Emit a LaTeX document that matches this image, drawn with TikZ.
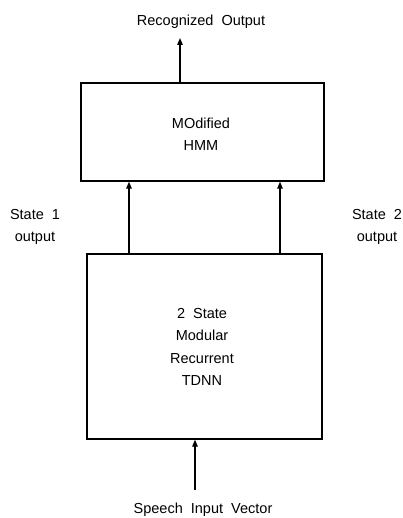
\documentclass[tikz,border=0pt]{standalone}
\usepackage{fontspec}
\setmainfont{Liberation Sans}
\usetikzlibrary{arrows.meta}
\begin{document}
\begin{tikzpicture}[x=1pt,y=-1pt,
  blk/.style={draw,line width=1.3pt,inner sep=0pt},
  lbl/.style={font=\fontsize{14.5}{22.5}\selectfont,align=center,inner sep=0pt},
  arr/.style={line width=1.3pt,-{Triangle[length=7pt,width=5.5pt]}}]
\useasboundingbox (0,0) rectangle (403,518);
\node[blk,minimum width=243pt,minimum height=98pt] (hmm) at (202.5,132) {};
\node[lbl] (hmmt) at (201,134) {MOdified\\HMM};
\node[blk,minimum width=235pt,minimum height=185pt] (tdnn) at (204.5,346.5) {};
\node[lbl] (tdnnt) at (202,347) {2\ \ State\\Modular\\Recurrent\\TDNN};
\node[lbl] (out) at (201,22) {Recognized\ \ Output};
\node[lbl] (in) at (203,510) {Speech\ \ Input\ \ Vector};
\node[lbl] (s1) at (35,227) {State\ \ 1\\output};
\node[lbl] (s2) at (377,227) {State\ \ 2\\output};
\coordinate (outend) at (180,38);
\coordinate (inend) at (195,490);
\draw[arr] (hmm.north -| outend) -- (outend);
\draw[arr] (tdnn.north -| 129,0) -- (hmm.south -| 129,0);
\draw[arr] (tdnn.north -| 280,0) -- (hmm.south -| 280,0);
\draw[arr] (inend) -- (tdnn.south -| inend);
\end{tikzpicture}
\end{document}
